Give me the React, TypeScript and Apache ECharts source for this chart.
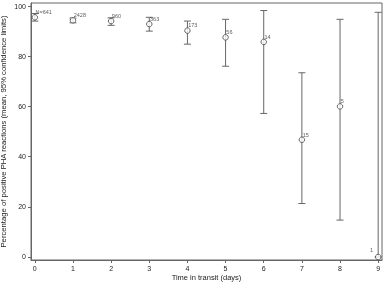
import React, { useEffect, useRef } from "react";
import * as echarts from "echarts";

const days = [0, 1, 2, 3, 4, 5, 6, 7, 8, 9];
const means = [95.5, 94.3, 94.0, 92.8, 90.2, 87.5, 85.7, 46.7, 60.0, 0];
const lower = [94.0, 93.3, 92.3, 90.0, 84.8, 76.0, 57.2, 21.3, 14.7, 0];
const upper = [97.0, 95.2, 95.3, 95.5, 94.0, 94.7, 98.2, 73.4, 94.7, 97.5];
const counts = ["N=641", "2428", "960", "363", "173", "56", "14", "15", "5", "1"];
const xTicks = [0, 1, 2, 3, 4, 5, 6, 7, 8, 9];
const yTicks = [0, 20, 40, 60, 80, 100];

const FONT = "Liberation Sans, Arial, sans-serif";
const LINE = "#666";
const TEXT = "#222";

export default function App() {
  const ref = useRef<HTMLDivElement>(null);
  useEffect(() => {
    if (!ref.current) return;
    const chart = echarts.init(ref.current, undefined, { renderer: "svg" });
    const errData = days.map((d, i) => [d, lower[i], upper[i]]);
    const ptData = days.map((d, i) => ({
      value: [d, means[i]],
      label: {
        show: true,
        formatter: counts[i],
        position: i === 9 ? [-5, -7] : [4, -5],
        fontSize: 5.5,
        color: "#333",
        fontFamily: FONT,
      },
    }));
    chart.setOption({
      animation: false,
      grid: {
        left: 31,
        top: 3,
        right: 4,
        bottom: 28,
        containLabel: false,
        outerBoundsMode: "none",
        show: true,
        borderColor: LINE,
        borderWidth: 1,
      },
      xAxis: {
        type: "value",
        min: -0.1,
        max: 9.1,
        name: "Time in transit (days)",
        nameLocation: "middle",
        nameGap: 13,
        nameMoveOverlap: false,
        nameTextStyle: { fontSize: 7.5, color: TEXT, fontFamily: FONT },
        splitLine: { show: false },
        axisLine: { show: true, onZero: false, lineStyle: { color: LINE } },
        axisTick: { show: true, length: 3, customValues: xTicks, lineStyle: { color: LINE } },
        axisLabel: {
          customValues: xTicks,
          fontSize: 7,
          color: TEXT,
          fontFamily: FONT,
          margin: 5,
        },
      },
      yAxis: {
        type: "value",
        min: -1.2,
        max: 101.2,
        name: "Percentage of positive PHA reactions (mean, 95% confidence limits)",
        nameLocation: "middle",
        nameGap: 24,
        nameMoveOverlap: false,
        nameTextStyle: { fontSize: 7.7, color: TEXT, fontFamily: FONT },
        splitLine: { show: false },
        axisLine: { show: true, onZero: false, lineStyle: { color: LINE } },
        axisTick: { show: true, length: 3, customValues: yTicks, lineStyle: { color: LINE } },
        axisLabel: {
          customValues: yTicks,
          fontSize: 7,
          color: TEXT,
          fontFamily: FONT,
          margin: 5,
        },
      },
      series: [
        {
          type: "custom",
          data: errData,
          renderItem: (params: any, api: any) => {
            const x = api.value(0);
            const lo = api.coord([x, api.value(1)]);
            const hi = api.coord([x, api.value(2)]);
            const cap = 3.5;
            const style = { stroke: LINE, lineWidth: 1 };
            return {
              type: "group",
              children: [
                { type: "line", shape: { x1: lo[0], y1: lo[1], x2: hi[0], y2: hi[1] }, style },
                { type: "line", shape: { x1: lo[0] - cap, y1: lo[1], x2: lo[0] + cap, y2: lo[1] }, style },
                { type: "line", shape: { x1: hi[0] - cap, y1: hi[1], x2: hi[0] + cap, y2: hi[1] }, style },
              ],
            };
          },
          z: 2,
        },
        {
          type: "scatter",
          data: ptData,
          symbol: "circle",
          symbolSize: 5.5,
          itemStyle: { color: "#fff", borderColor: "#444", borderWidth: 1 },
          z: 3,
        },
      ],
    });
    return () => chart.dispose();
  }, []);
  return (
    <div
      ref={ref}
      style={{ position: "fixed", left: 0, top: 0, width: 386, height: 288 }}
    />
  );
}
